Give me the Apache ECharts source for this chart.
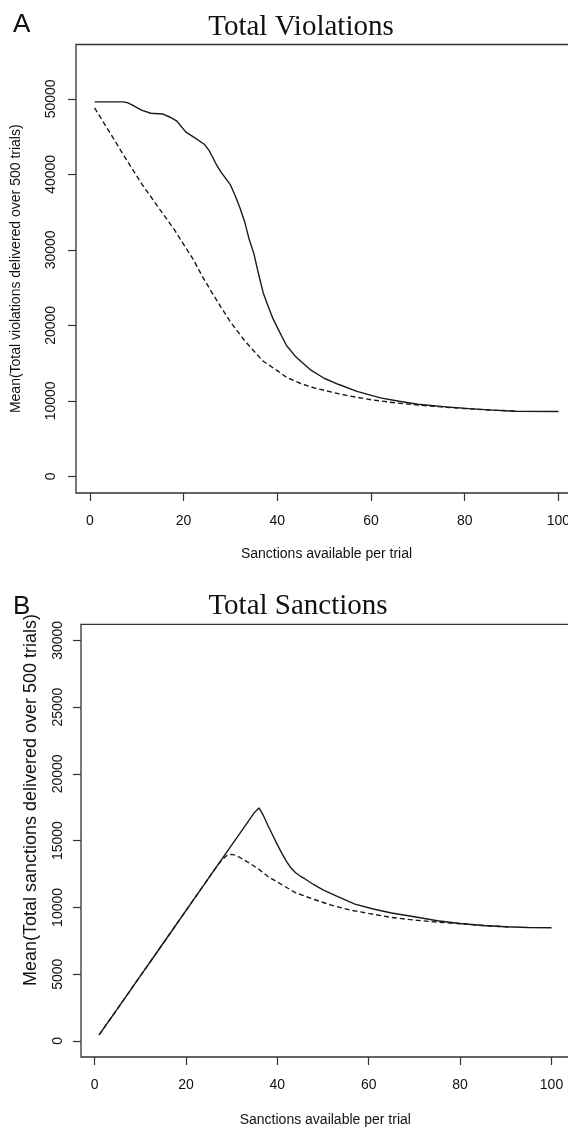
<!DOCTYPE html>
<html>
<head>
<meta charset="utf-8">
<script src="https://cdn.jsdelivr.net/npm/echarts@6/dist/echarts.min.js"></script>
<style>
html,body{margin:0;padding:0;background:#fff;overflow:hidden;}
#chart{width:600px;height:1128px;}
</style>
</head>
<body>
<div id="chart"></div>
<script>
// ---------- data ----------
var xTicks = [0, 20, 40, 60, 80, 100];
var yTicksA = [0, 10000, 20000, 30000, 40000, 50000];
var yTicksB = [0, 5000, 10000, 15000, 20000, 25000, 30000];

// Panel A: Total Violations
var xA_solid = [1, 4, 7, 8, 9, 11, 13, 15.5, 17, 18.5, 20.5, 22.5, 24.5, 25.5, 27, 28, 30, 31, 32, 33, 34, 35, 36, 37, 38, 39, 40.5, 42, 44, 47, 50, 53, 57, 62, 66, 70, 76, 81, 86, 91, 100];
var yA_solid = [49600, 49600, 49600, 49500, 49200, 48500, 48100, 48000, 47600, 47100, 45600, 44800, 43950, 43100, 41300, 40300, 38600, 37200, 35600, 33800, 31400, 29500, 26800, 24300, 22600, 21000, 19100, 17300, 15800, 14150, 13000, 12200, 11250, 10400, 9950, 9550, 9200, 8980, 8780, 8630, 8600];
var xA_dash = [1, 4, 8, 11, 15, 18, 22, 24, 26, 28, 30, 33, 35, 37, 40, 42, 45, 48, 52, 55, 60, 65, 70, 75, 80, 85, 91];
var yA_dash = [48800, 45800, 41750, 38800, 35300, 32700, 28800, 26500, 24400, 22400, 20450, 18000, 16600, 15250, 14000, 13100, 12300, 11700, 11100, 10700, 10150, 9750, 9450, 9200, 8980, 8800, 8640];

// Panel B: Total Sanctions
var xB_solid = [1, 5, 10, 15, 20, 25, 30, 33, 35, 36, 37, 38, 39, 40, 41, 42, 43, 44, 45, 46, 48, 50, 53, 57, 61, 65, 70, 75, 80, 85, 90, 95, 100];
var yB_solid = [450, 2400, 4860, 7300, 9760, 12210, 14660, 16130, 17110, 17450, 16850, 16100, 15400, 14700, 14050, 13450, 12950, 12600, 12350, 12150, 11700, 11320, 10850, 10250, 9880, 9580, 9300, 9000, 8800, 8650, 8550, 8500, 8480];
var xB_dash = [1, 5, 10, 15, 20, 25, 27, 28, 29, 30, 31, 32, 34, 36, 38, 40, 44, 48, 52, 56, 60, 65, 70, 75, 80, 85, 91];
var yB_dash = [450, 2400, 4860, 7300, 9760, 12210, 13190, 13600, 13900, 13970, 13900, 13700, 13300, 12850, 12300, 11900, 11100, 10600, 10150, 9800, 9550, 9250, 9050, 8900, 8780, 8650, 8530];

function pairs(xs, ys) { return xs.map(function (x, i) { return [x, ys[i]]; }); }

// ---------- chart ----------
var chart = echarts.init(document.getElementById('chart'), null, {renderer: 'canvas'});
var SANS = '"Liberation Sans", Arial, sans-serif';
var SERIF = '"Liberation Serif", "Times New Roman", serif';
var INK = '#111';
function plain(v) { return String(v); }

function xAxisDef(gridIndex, gap) {
  return {
    type: 'value', gridIndex: gridIndex, min: -2.96, max: 103.96, position: 'bottom',
    splitLine: {show: false},
    axisLine: {show: false, onZero: false},
    axisTick: {show: true, inside: false, length: 8, lineStyle: {color: '#333', width: 1.2}, customValues: xTicks},
    axisLabel: {show: true, margin: 21, color: INK, fontFamily: SANS, fontSize: 14, customValues: xTicks, formatter: plain},
    name: 'Sanctions available per trial', nameLocation: 'middle', nameGap: gap,
    nameTextStyle: {color: INK, fontFamily: SANS, fontSize: 14}
  };
}
function yAxisDef(gridIndex, min, max, ticks, name, gap, margin) {
  return {
    type: 'value', gridIndex: gridIndex, min: min, max: max, position: 'left',
    splitLine: {show: false},
    axisLine: {show: false, onZero: false},
    axisTick: {show: true, inside: false, length: 8, lineStyle: {color: '#333', width: 1.2}, customValues: ticks},
    axisLabel: {show: true, rotate: 90, margin: margin, color: INK, fontFamily: SANS, fontSize: 14, customValues: ticks, formatter: plain},
    name: name, nameLocation: 'middle', nameGap: gap,
    nameTextStyle: {color: INK, fontFamily: SANS, fontSize: 14}
  };
}
function lineDef(xi, data, dashed) {
  return {
    type: 'line', xAxisIndex: xi, yAxisIndex: xi, data: data,
    symbol: 'none', smooth: false, animation: false,
    lineStyle: {color: '#1a1a1a', width: 1.4, type: dashed ? [5, 3] : 'solid'}
  };
}

chart.setOption({
  backgroundColor: '#fff',
  animation: false,
  grid: [
    {left: 76, top: 44.5, width: 501, height: 448.5, show: true, borderColor: '#333', borderWidth: 1.3, backgroundColor: 'transparent', containLabel: false},
    {left: 81, top: 624.3, width: 488.6, height: 436.4, show: true, borderColor: '#333', borderWidth: 1.3, backgroundColor: 'transparent', containLabel: false}
  ],
  xAxis: [xAxisDef(0, 54), xAxisDef(1, 56)],
  yAxis: [
    yAxisDef(0, -2200, 57200, yTicksA, 'Mean(Total violations delivered over 500 trials)', 53, 18),
    yAxisDef(1, -1200, 31200, yTicksB, '', 49, 16)
  ],
  series: [
    lineDef(0, pairs(xA_solid, yA_solid), false),
    lineDef(0, pairs(xA_dash, yA_dash), true),
    lineDef(1, pairs(xB_solid, yB_solid), false),
    lineDef(1, pairs(xB_dash, yB_dash), true)
  ],
  graphic: [
    {type: 'text', left: 13, top: 12, style: {text: 'A', fontFamily: SANS, fontSize: 26, fill: INK}},
    {type: 'text', style: {x: 301, y: 27, text: 'Total Violations', fontFamily: SERIF, fontSize: 29, fill: INK, textAlign: 'center', textVerticalAlign: 'middle'}},
    {type: 'text', left: 13, top: 594, style: {text: 'B', fontFamily: SANS, fontSize: 26, fill: INK}},
    {type: 'text', style: {x: 298, y: 606, text: 'Total Sanctions', fontFamily: SERIF, fontSize: 29, fill: INK, textAlign: 'center', textVerticalAlign: 'middle'}},
    {type: 'text', x: 31, y: 800, rotation: Math.PI / 2, style: {x: 0, y: 0, text: 'Mean(Total sanctions delivered over 500 trials)', fontFamily: SANS, fontSize: 18, fill: INK, textAlign: 'center', textVerticalAlign: 'middle'}}
  ]
});
</script>
</body>
</html>
